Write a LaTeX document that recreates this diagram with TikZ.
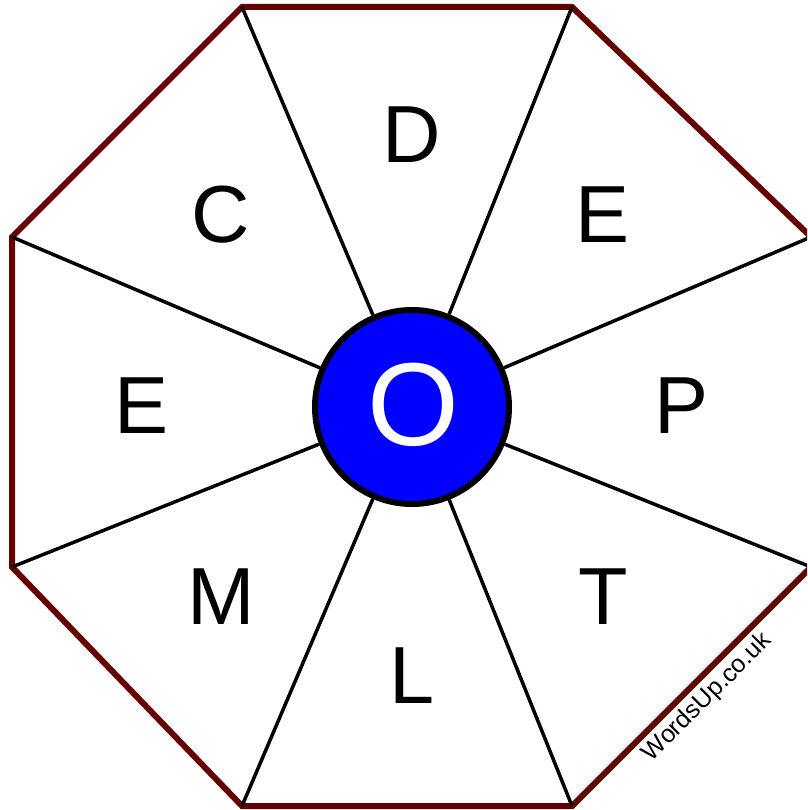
\documentclass[tikz,border=0pt]{standalone}
\usepackage{fontspec}
\setmainfont{Liberation Sans}
\usepackage{xcolor}
\definecolor{Rim}{HTML}{660000}
\definecolor{HubBlue}{HTML}{0000FF}

\tikzset{
  rim/.style={draw=Rim,line width=6pt,line join=miter},
  spoke/.style={draw=black,line width=3.5pt},
  hub/.style={circle,draw=black,line width=6pt,fill=HubBlue,
              minimum size=194pt,inner sep=0pt},
  letter/.style={anchor=base,inner sep=0pt,font=\fontsize{81}{81}\selectfont},
}

\begin{document}
\begin{tikzpicture}[x=1pt,y=-1pt]
    \useasboundingbox (0,0) rectangle (807,810);
    \clip (0,0) rectangle (807,810);
    % corners of the rim
    \coordinate (v1) at (242,7);
    \coordinate (v2) at (572,7);
    \coordinate (v3) at (811,237);
    \coordinate (v4) at (811,567);
    \coordinate (v5) at (572,806);
    \coordinate (v6) at (242,806);
    \coordinate (v7) at (12,567);
    \coordinate (v8) at (12,237);
    \draw[rim] (v1)--(v2)--(v3)--(v4)--(v5)--(v6)--(v7)--(v8)--cycle;

    \node[hub] (hub) at (412,407) {};
    \draw[spoke] (v1)--(hub);
    \draw[spoke] (v2)--(hub);
    \draw[spoke] (v3)--(hub);
    \draw[spoke] (v4)--(hub);
    \draw[spoke] (v5)--(hub);
    \draw[spoke] (v6)--(hub);
    \draw[spoke] (v7)--(hub);
    \draw[spoke] (v8)--(hub);

    \node[anchor=base,inner sep=0pt,text=white,
          font=\fontsize{118}{118}\selectfont] (hubletter) at (413,445) {O};

    \node[letter] (letD)  at (412,163) {D};
    \node[letter] (letE)  at (603,242) {E};
    \node[letter] (letP)  at (682,433) {P};
    \node[letter] (letT)  at (603,624) {T};
    \node[letter] (letL)  at (412,703) {L};
    \node[letter] (letM)  at (221,624) {M};
    \node[letter] (letEw) at (142,433) {E};
    \node[letter] (letC)  at (221,242) {C};

    \node[anchor=base,inner sep=0pt,rotate=45,
          font=\fontsize{25}{25}\selectfont] (credit) at (712,702) {WordsUp.co.uk};
  \end{tikzpicture}
\end{document}
